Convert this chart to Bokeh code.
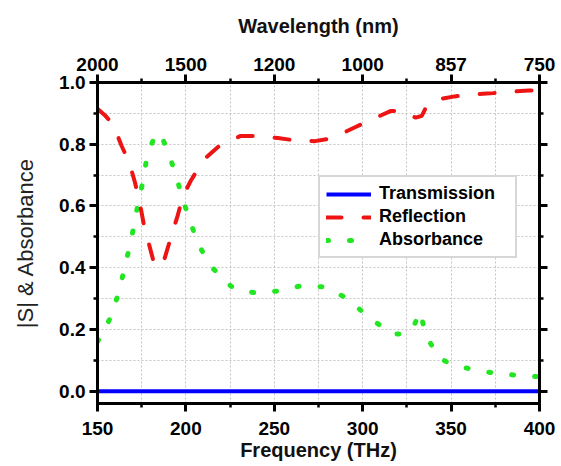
from bokeh.plotting import figure
from bokeh.models import (LinearAxis, FixedTicker, PrintfTickFormatter, Range1d,
                          Legend, LegendItem, CustomJSTickFormatter)
from bokeh.embed import file_html
from bokeh.resources import INLINE

# ---- data ----
freq_ticks = [150, 200, 250, 300, 350, 400]
freq_minor = [175, 225, 275, 325, 375]
wavelength_labels = ["2000", "1500", "1200", "1000", "857", "750"]
y_ticks = [0.0, 0.2, 0.4, 0.6, 0.8, 1.0]
y_minor = [0.1, 0.3, 0.5, 0.7, 0.9]

trans_f = [150, 400]
trans_v = [0.0, 0.0]

refl_f = [150, 154, 158.8, 163.6, 168, 171.2, 173.7, 176, 178.5, 181.7, 184.5,
          187.8, 191.6, 195, 198.4, 202.6, 210, 219, 231, 242, 252, 261, 273,
          283, 296, 305, 316, 323, 327, 330, 333.4, 336.2, 340, 345, 352, 366,
          374, 386, 394, 400]
refl_v = [0.915, 0.895, 0.865, 0.795, 0.74, 0.676, 0.616, 0.546, 0.49, 0.42, 0.40,
          0.427, 0.50, 0.562, 0.632, 0.68, 0.75, 0.795, 0.827, 0.827, 0.82, 0.813, 0.81,
          0.82, 0.856, 0.88, 0.908, 0.908, 0.893, 0.886, 0.892, 0.924, 0.94, 0.948, 0.955, 0.963,
          0.966, 0.971, 0.974, 0.975]

abs_f = [150, 154, 157.7, 161.8, 165, 168, 170.8, 173, 176, 178, 183, 186, 190,
         194.4, 197.9, 202, 206.8, 214, 225.5, 232, 239, 252, 265, 277.4, 290.6,
         303.4, 316.3, 322, 328, 332.5, 335.6, 342.7, 349, 356, 369, 381.8, 394.6, 400]
abs_v = [0.16, 0.2, 0.243, 0.316, 0.391, 0.465, 0.54, 0.611, 0.686, 0.762, 0.835, 0.83, 0.773,
         0.70, 0.627, 0.557, 0.478, 0.405, 0.34, 0.325, 0.319, 0.324, 0.341, 0.338, 0.303,
         0.24, 0.186, 0.185, 0.2, 0.257, 0.184, 0.11, 0.09, 0.078, 0.063, 0.054, 0.048, 0.047]

FONT = "Liberation Sans"
FS = "19px"
TS = "20px"

p = figure(width=561, height=466, x_range=Range1d(150, 400), y_range=Range1d(-0.04, 1.0),
           output_backend="svg", toolbar_location=None, title=None,
           min_border_left=97, min_border_right=22, min_border_top=82, min_border_bottom=63)
p.background_fill_color = "white"
p.border_fill_color = "white"
p.outline_line_color = "black"
p.outline_line_width = 3

x_ticker = FixedTicker(ticks=freq_ticks, minor_ticks=freq_minor)
y_ticker = FixedTicker(ticks=y_ticks, minor_ticks=y_minor)


def style_axis(ax):
    ax.axis_line_width = 3
    ax.axis_line_color = "black"
    ax.major_tick_line_width = 3
    ax.minor_tick_line_width = 2.5
    ax.major_tick_in = 0
    ax.major_tick_out = 8
    ax.minor_tick_in = 0
    ax.minor_tick_out = 4
    ax.major_label_text_font = FONT
    ax.major_label_text_font_style = "bold"
    ax.major_label_text_font_size = FS
    ax.major_label_text_color = "black"
    ax.axis_label_text_font = FONT
    ax.axis_label_text_font_style = "bold"
    ax.axis_label_text_font_size = TS
    ax.axis_label_text_color = "#111111"


# bottom axis
xb = p.xaxis[0]
xb.ticker = x_ticker
xb.axis_label = "Frequency (THz)"
style_axis(xb)
xb.major_label_standoff = 10
xb.axis_label_standoff = 1

# left axis
yl = p.yaxis[0]
yl.ticker = y_ticker
yl.formatter = PrintfTickFormatter(format="%.1f")
yl.axis_label = "|S| & Absorbance"
style_axis(yl)
yl.axis_label_text_font_style = "normal"
yl.axis_label_text_font_size = "22px"
yl.axis_label_text_color = "#222222"
yl.major_label_standoff = 4
yl.axis_label_standoff = 18

# top axis (wavelength)
xt = LinearAxis(ticker=FixedTicker(ticks=freq_ticks, minor_ticks=freq_minor),
                major_label_overrides={f: w for f, w in zip(freq_ticks, wavelength_labels)},
                axis_label="Wavelength (nm)")
style_axis(xt)
xt.major_label_standoff = 4
xt.axis_label_standoff = 18
p.add_layout(xt, "above")

# right axis (ticks only)
yr = LinearAxis(ticker=FixedTicker(ticks=y_ticks, minor_ticks=y_minor),
                formatter=CustomJSTickFormatter(code="return ''"))
style_axis(yr)
p.add_layout(yr, "right")

# grid
for g, t in ((p.xgrid[0], x_ticker), (p.ygrid[0], y_ticker)):
    g.ticker = t
    g.grid_line_color = "#c4c4c4"
    g.grid_line_dash = "2 2"
    g.grid_line_width = 1
    g.minor_grid_line_color = "#c4c4c4"
    g.minor_grid_line_dash = "2 2"
    g.minor_grid_line_width = 1

r_a = p.line(abs_f, abs_v, line_color="#22e622", line_width=5, line_dash="2 21",
             line_cap="round")
r_r = p.line(refl_f, refl_v, line_color="#ee1414", line_width=4, line_dash="15 22",
             line_cap="round")
r_t = p.line(trans_f, trans_v, line_color="#0000ff", line_width=4)

legend = Legend(items=[LegendItem(label="Transmission", renderers=[r_t]),
                       LegendItem(label="Reflection", renderers=[r_r]),
                       LegendItem(label="Absorbance", renderers=[r_a])],
                location=(221, 145))
legend.label_text_font = FONT
legend.label_text_font_style = "bold"
legend.label_text_font_size = "18px"
legend.label_text_color = "black"
legend.glyph_width = 45
legend.glyph_height = 20
legend.label_height = 20
legend.label_width = 130
legend.label_standoff = 8
legend.spacing = 2
legend.padding = 6
legend.margin = 0
legend.border_line_color = "#b0b0b0"
legend.border_line_width = 2
legend.background_fill_color = "white"
legend.background_fill_alpha = 1.0
p.add_layout(legend, "center")

open("out.html", "w").write(file_html(p, INLINE))
